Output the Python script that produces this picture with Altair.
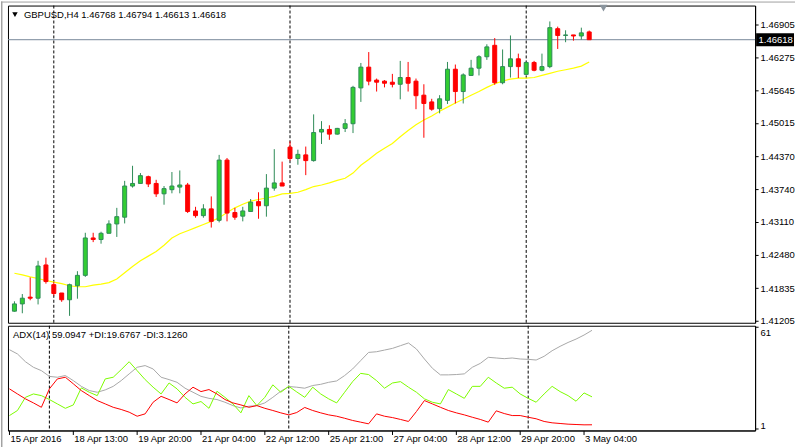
import json
import altair as alt
import pandas as pd

# ---------------- data ----------------
symbol = "GBPUSD,H4"
header_values = ["1.46768", "1.46794", "1.46613", "1.46618"]
adx_label = "ADX(14) 59.0947 +DI:19.6767 -DI:3.1260"

opens = [
    1.4139, 1.4153, 1.4166, 1.4164, 1.4228, 1.4190, 1.4174, 1.4161, 1.4188, 1.4208,
    1.4280, 1.4277, 1.4289, 1.4307, 1.4320, 1.4380, 1.4385, 1.4398, 1.4385, 1.4365,
    1.4373, 1.4378, 1.4382, 1.4332, 1.4323, 1.4336, 1.4314, 1.4430, 1.4329, 1.4322,
    1.4331, 1.4350, 1.4342, 1.4376, 1.4386, 1.4455, 1.4433, 1.4440, 1.4429, 1.4484,
    1.4489, 1.4480, 1.4491, 1.4500, 1.4569, 1.4609, 1.4584, 1.4582, 1.4580, 1.4576,
    1.4589, 1.4582, 1.4555, 1.4542, 1.4529, 1.4545, 1.4605, 1.4562, 1.4593, 1.4607,
    1.4629, 1.4651, 1.4579, 1.4610, 1.4625, 1.4595, 1.4618, 1.4603, 1.4610, 1.4683,
    1.4670, 1.4671, 1.4669, 1.46768]
highs = [
    1.4158, 1.4172, 1.4204, 1.4236, 1.4242, 1.4195, 1.4174, 1.4192, 1.4216, 1.4290,
    1.4290, 1.4292, 1.4314, 1.4338, 1.4390, 1.4419, 1.4405, 1.4400, 1.4392, 1.4380,
    1.4407, 1.4410, 1.4386, 1.4340, 1.4345, 1.4360, 1.4440, 1.4434, 1.4338, 1.4340,
    1.4355, 1.4368, 1.4403, 1.4451, 1.4427, 1.4466, 1.4450, 1.4456, 1.4518, 1.4505,
    1.4497, 1.4492, 1.4509, 1.4573, 1.4617, 1.4638, 1.4587, 1.4584, 1.4596, 1.4621,
    1.4619, 1.4587, 1.4576, 1.4548, 1.4555, 1.4619, 1.4614, 1.4597, 1.4623, 1.4632,
    1.4653, 1.4665, 1.4643, 1.4670, 1.4635, 1.4620, 1.4621, 1.4635, 1.4697, 1.4687,
    1.4680, 1.4671, 1.4685, 1.46794]
lows = [
    1.4138, 1.4135, 1.4160, 1.4152, 1.4192, 1.4169, 1.4157, 1.4130, 1.4163, 1.4205,
    1.4272, 1.4269, 1.4289, 1.4282, 1.4308, 1.4377, 1.4385, 1.4378, 1.4359, 1.4344,
    1.4366, 1.4366, 1.4328, 1.4319, 1.4319, 1.4300, 1.4310, 1.4312, 1.4315, 1.4312,
    1.4331, 1.4317, 1.4321, 1.4371, 1.4380, 1.4429, 1.4421, 1.4401, 1.4427, 1.4461,
    1.4469, 1.4479, 1.4484, 1.4482, 1.4542, 1.4574, 1.4562, 1.4570, 1.4570, 1.4547,
    1.4562, 1.4528, 1.4473, 1.4525, 1.4520, 1.4538, 1.4539, 1.4539, 1.4592, 1.4593,
    1.4623, 1.4575, 1.4576, 1.4589, 1.4588, 1.4595, 1.4601, 1.4601, 1.4607, 1.4644,
    1.4657, 1.4660, 1.4662, 1.46613]
closes = [
    1.4153, 1.4164, 1.4164, 1.4226, 1.4196, 1.4173, 1.4161, 1.4190, 1.4208, 1.4280,
    1.4277, 1.4289, 1.4307, 1.4321, 1.4380, 1.4385, 1.4400, 1.4384, 1.4365, 1.4375,
    1.4380, 1.4382, 1.4331, 1.4323, 1.4336, 1.4312, 1.4430, 1.4328, 1.4320, 1.4332,
    1.4349, 1.4342, 1.4376, 1.4386, 1.4380, 1.4433, 1.4441, 1.4429, 1.4483, 1.4489,
    1.4480, 1.4491, 1.4500, 1.4570, 1.4609, 1.4582, 1.4580, 1.4578, 1.4576, 1.4589,
    1.4578, 1.4554, 1.4539, 1.4528, 1.4548, 1.4605, 1.4562, 1.4594, 1.4607, 1.4629,
    1.4648, 1.4579, 1.4610, 1.4625, 1.4610, 1.4618, 1.4603, 1.4610, 1.4685, 1.4670,
    1.4671, 1.4669, 1.4675, 1.46618]
ma = [
    1.4212, 1.4209, 1.4205, 1.4202, 1.4198, 1.4195, 1.4192, 1.4188, 1.4186, 1.4186,
    1.4189, 1.4191, 1.4194, 1.4201, 1.4213, 1.4225, 1.4236, 1.4245, 1.4254, 1.4266,
    1.4280, 1.4288, 1.4294, 1.4300, 1.4306, 1.4312, 1.4319, 1.4329, 1.4338, 1.4345,
    1.4351, 1.4354, 1.4357, 1.4360, 1.4365, 1.4366, 1.4368, 1.4373, 1.4379, 1.4382,
    1.4386, 1.4391, 1.4395, 1.4405, 1.4420, 1.4431, 1.4443, 1.4453, 1.4462, 1.4475,
    1.4487, 1.4498, 1.4507, 1.4515, 1.4524, 1.4532, 1.4540, 1.4547, 1.4555, 1.4562,
    1.4570, 1.4577, 1.4582, 1.4586, 1.4588, 1.4588, 1.4589, 1.4593, 1.4597, 1.4601,
    1.4604, 1.4607, 1.4611, 1.4619]
adx = [
    47.6, 45.1, 40.5, 37.2, 35.2, 31.8, 31.3, 32.3, 29.3, 25.9,
    23.4, 22.4, 23.8, 25.9, 29.3, 33.3, 37.2, 38.2, 36.2, 31.3,
    29.9, 28.3, 24.8, 22.4, 20.0, 18.8, 18.1, 16.5, 14.5, 13.1,
    14.1, 14.5, 16.1, 19.4, 23.0, 25.8, 25.4, 24.8, 26.4, 27.1,
    28.3, 29.1, 32.3, 36.2, 41.1, 46.0, 46.4, 47.4, 48.4, 50.0,
    51.6, 48.0, 42.1, 36.6, 32.7, 32.7, 32.9, 33.3, 37.2, 39.5,
    43.1, 42.7, 42.3, 42.7, 42.1, 41.9, 41.5, 43.7, 47.0, 49.6,
    51.9, 53.9, 56.3, 59.09]
plus_di = [
    8.6, 11.6, 19.4, 21.4, 20.4, 18.1, 15.5, 12.9, 14.9, 25.0,
    22.4, 20.4, 30.3, 31.3, 35.8, 40.5, 35.2, 29.9, 25.4, 21.4,
    27.9, 24.4, 19.4, 15.5, 16.9, 12.9, 23.0, 19.4, 15.5, 10.2,
    20.4, 14.5, 19.4, 26.8, 22.4, 25.9, 22.6, 19.4, 25.4, 21.4,
    18.5, 16.1, 22.4, 28.7, 33.6, 32.9, 29.3, 24.8, 27.9, 28.7,
    25.4, 22.4, 18.5, 16.5, 15.5, 24.0, 21.4, 18.8, 25.9, 25.9,
    31.3, 27.9, 24.8, 25.4, 21.4, 18.8, 16.5, 21.4, 25.9, 22.8,
    20.4, 17.1, 22.0, 19.68]
minus_di = [
    24.4, 21.4, 18.5, 16.1, 13.5, 24.4, 30.3, 31.3, 27.4, 23.4,
    20.4, 17.5, 15.5, 13.5, 12.2, 10.6, 8.2, 9.6, 16.5, 20.0,
    18.1, 16.1, 21.4, 25.4, 22.8, 24.0, 21.4, 18.1, 16.1, 14.9,
    13.5, 14.5, 12.9, 11.6, 10.2, 9.0, 10.4, 13.4, 11.6, 10.2,
    9.0, 8.2, 7.0, 5.7, 4.7, 3.7, 9.6, 8.2, 7.4, 6.3,
    5.1, 11.0, 17.5, 15.5, 13.5, 11.6, 10.2, 9.0, 7.6, 6.3,
    4.7, 11.4, 9.8, 8.6, 8.6, 7.6, 6.7, 5.1, 4.3, 3.9,
    3.5, 3.3, 3.1, 3.13]
time_labels = ["15 Apr 2016", "18 Apr 13:00", "19 Apr 20:00", "21 Apr 04:00",
               "22 Apr 12:00", "25 Apr 21:00", "27 Apr 04:00", "28 Apr 12:00",
               "29 Apr 20:00", "3 May 04:00"]
time_label_bars = [0, 8, 16, 24, 32, 40, 48, 56, 64, 72]
price_ticks = [1.46905, 1.46275, 1.45645, 1.45015, 1.44370,
               1.43740, 1.43110, 1.42480, 1.41835, 1.41205]
adx_ticks = [61, 1]
separator_bars = [5, 35, 65]
last_price = 1.46618

# ---------------- tables ----------------
n = len(opens)
candles = pd.DataFrame({"i": list(range(n)), "open": opens, "high": highs,
                        "low": lows, "close": closes, "ma": ma})
candles["dir"] = ["up" if c >= o else "down" for o, c in zip(opens, closes)]
ind = pd.DataFrame({"i": list(range(n)), "adx": adx, "pdi": plus_di, "mdi": minus_di})
seps = pd.DataFrame({"i": separator_bars})
last = pd.DataFrame({"p": [last_price], "label": [f"{last_price:.5f}"]})
one = pd.DataFrame({"k": [0]})

FONT = "Liberation Sans"
FS = 9.5
W, H1, H2 = 749, 318, 105
X_DOM = [-0.1875, 93.4375]
P_DOM = [1.41167, 1.47276]
A_DOM = [-0.24, 61.8]

xs = alt.Scale(domain=X_DOM, nice=False, zero=False)
ys = alt.Scale(domain=P_DOM, nice=False, zero=False)
ascale = alt.Scale(domain=A_DOM, nice=False, zero=False)
dir_dom = ["up", "down"]
x_main = alt.X("i:Q", scale=xs, axis=None)

price_axis = alt.Axis(orient="right", values=price_ticks, format=".5f", tickSize=3,
                      labelPadding=2, grid=False, domainColor="black", tickColor="black",
                      labelColor="black", labelFont=FONT, labelFontSize=FS,
                      labelFlush=False, labelOverlap=False, title=None)


def py(field):
    return alt.Y(field, type="quantitative", scale=ys, axis=price_axis)


wicks = alt.Chart(candles).mark_rule(strokeWidth=1).encode(
    x=x_main,
    y=py("low"),
    y2="high:Q",
    color=alt.Color("dir:N", scale=alt.Scale(domain=dir_dom, range=["#2E8B57", "#FF0000"]), legend=None),
)
bodies = alt.Chart(candles).mark_bar(size=4, strokeWidth=1).encode(
    x=x_main,
    y=py("open"),
    y2="close:Q",
    fill=alt.Fill("dir:N", scale=alt.Scale(domain=dir_dom, range=["#32CD32", "#FF0000"]), legend=None),
    stroke=alt.Stroke("dir:N", scale=alt.Scale(domain=dir_dom, range=["#2E8B57", "#FF0000"]), legend=None),
)
ma_line = alt.Chart(candles).mark_line(color="#FFFF00", strokeWidth=1.2).encode(
    x=x_main, y=py("ma"))
price_line = alt.Chart(last).mark_rule(color="#778899", strokeWidth=1).encode(y=py("p"))
sep_main = alt.Chart(seps).mark_rule(color="black", strokeDash=[3, 2], strokeWidth=1).encode(x=x_main)
tag = alt.Chart(last).mark_tick(orient="horizontal", size=38, thickness=13, color="black", opacity=1).encode(
    x=alt.value(769), y=py("p"))
tag_text = alt.Chart(last).mark_text(color="white", align="left", baseline="middle",
                                     font=FONT, fontSize=FS).encode(
    x=alt.value(752.5), y=py("p"), text="label:N")
header = alt.Chart(one).mark_text(align="left", baseline="middle", font=FONT, fontSize=FS,
                                  color="black").encode(
    x=alt.value(16), y=alt.value(9),
    text=alt.value(symbol + "  " + " ".join(header_values)))
menu_tri = alt.Chart(one).mark_point(shape="triangle-down", filled=True, color="black",
                                     size=30, opacity=1).encode(x=alt.value(7), y=alt.value(9))
shift_tri = alt.Chart(one).mark_point(shape="triangle-down", filled=True, color="#8A949D",
                                      size=60, opacity=1).encode(x=alt.value(597), y=alt.value(2.5))
# window frame (gray edge at the far left and top of the terminal window)
frame_left = alt.Chart(one).mark_rule(color="#A0A0A0", strokeWidth=1).encode(
    x=alt.value(-6.5), y=alt.value(-4), y2=alt.value(443))
frame_left2 = alt.Chart(one).mark_rule(color="#D4D4D4", strokeWidth=1).encode(
    x=alt.value(-5.5), y=alt.value(-4), y2=alt.value(443))
frame_top = alt.Chart(one).mark_rule(color="#A0A0A0", strokeWidth=1).encode(
    x=alt.value(-7), x2=alt.value(789), y=alt.value(-3.5))

main = alt.layer(frame_left, frame_left2, frame_top, sep_main, price_line, ma_line, wicks,
                 bodies, tag, tag_text, header, menu_tri, shift_tri).properties(width=W, height=H1)

# ---------------- ADX panel ----------------
label_js = json.dumps(time_labels)
x_ticks = [b - 0.0625 for b in time_label_bars]
x_axis = alt.Axis(orient="bottom", values=x_ticks,
                  labelExpr=f"{label_js}[round((datum.value + 0.0625) / 8)]",
                  tickSize=4, labelAlign="left", labelBaseline="top", labelPadding=-1,
                  labelOffset=1, grid=False, domainColor="black", tickColor="black",
                  labelColor="black", labelFont=FONT, labelFontSize=FS,
                  labelFlush=False, labelOverlap=False, title=None)
x_adx = alt.X("i:Q", scale=xs, axis=x_axis)
adx_axis = alt.Axis(orient="right", values=adx_ticks, format="d", tickSize=3, labelPadding=2,
                    grid=False, domainColor="black", tickColor="black", labelColor="black",
                    labelFont=FONT, labelFontSize=FS, labelFlush=False, labelOverlap=False,
                    labelBaseline={"condition": {"test": "datum.value > 30", "value": "top"},
                                   "value": "alphabetic"},
                    title=None)


def ay(field):
    return alt.Y(field, type="quantitative", scale=ascale, axis=adx_axis)


adx_line = alt.Chart(ind).mark_line(color="#A8A8A8", strokeWidth=1).encode(x=x_adx, y=ay("adx"))
pdi_line = alt.Chart(ind).mark_line(color="#7CFC00", strokeWidth=1).encode(x=x_adx, y=ay("pdi"))
mdi_line = alt.Chart(ind).mark_line(color="#FF0000", strokeWidth=1).encode(x=x_adx, y=ay("mdi"))
sep_adx = alt.Chart(seps).mark_rule(color="black", strokeDash=[3, 2], strokeWidth=1).encode(x=x_adx)
adx_text = alt.Chart(one).mark_text(align="left", baseline="middle", font=FONT, fontSize=FS,
                                    color="black").encode(
    x=alt.value(5), y=alt.value(9), text=alt.value(adx_label))

panel = alt.layer(sep_adx, adx_line, pdi_line, mdi_line, adx_text).properties(width=W, height=H2)

chart = alt.vconcat(main, panel, spacing=3, bounds="flush").resolve_scale(
    y="independent").properties(
    padding={"left": 0, "top": 0, "right": 0, "bottom": 0}
).configure(background="white").configure_view(
    stroke="black", strokeWidth=1
).configure_axis(labelOverlap=False, labelFlush=False, labelBound=False)

chart.save("out.html", embed_options={"renderer": "svg", "actions": False})
